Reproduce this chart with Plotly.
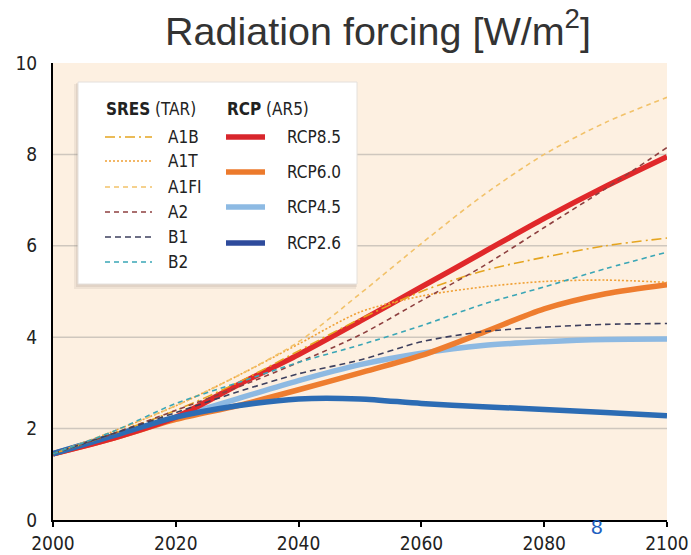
import plotly.graph_objects as go

# ---------------- data ----------------
YEARS = [2000, 2010, 2020, 2030, 2040, 2050, 2060, 2070, 2080, 2090, 2100]

RCP85 = [1.45, 1.80, 2.25, 2.95, 3.62, 4.35, 5.10, 5.85, 6.60, 7.30, 7.95]
RCP60 = [1.45, 1.80, 2.20, 2.50, 2.85, 3.22, 3.60, 4.10, 4.62, 4.95, 5.15]
RCP45 = [1.45, 1.85, 2.25, 2.65, 3.05, 3.40, 3.65, 3.82, 3.90, 3.95, 3.96]
RCP26 = [1.45, 1.85, 2.25, 2.50, 2.65, 2.65, 2.55, 2.48, 2.42, 2.35, 2.28]

A1B = [1.45, 1.90, 2.40, 3.00, 3.70, 4.40, 5.00, 5.45, 5.75, 6.00, 6.17]
A1T = [1.45, 1.95, 2.50, 3.15, 3.85, 4.55, 4.90, 5.10, 5.22, 5.25, 5.20]
A1FI = [1.45, 1.95, 2.50, 3.15, 3.90, 4.95, 6.05, 7.10, 8.00, 8.70, 9.25]
A2 = [1.45, 1.90, 2.40, 2.90, 3.45, 4.05, 4.80, 5.55, 6.40, 7.25, 8.15]
B1 = [1.45, 1.90, 2.35, 2.80, 3.20, 3.50, 3.90, 4.12, 4.22, 4.28, 4.30]
B2 = [1.45, 1.95, 2.55, 3.00, 3.45, 3.83, 4.25, 4.72, 5.10, 5.50, 5.86]

X_TICKS = [2000, 2020, 2040, 2060, 2080, 2100]
Y_TICKS = [0, 2, 4, 6, 8, 10]
GRID_VALUES = [2, 4, 6, 8]

TITLE = "Radiation forcing [W/m<sup>2</sup>]"
SLIDE_NO = "8"

SRES_NAMES = ["A1B", "A1T", "A1FI", "A2", "B1", "B2"]
SRES_DATA = [A1B, A1T, A1FI, A2, B1, B2]
SRES_COLORS = ["#E5A520", "#F0A035", "#F2C26A", "#8E4040", "#3E405E", "#3AA6B6"]
SRES_DASH = ["10px,4px,2px,4px", "2px,2px", "5px,4px", "5px,4px", "6px,4px", "5px,4px"]

RCP_NAMES = ["RCP8.5", "RCP6.0", "RCP4.5", "RCP2.6"]
RCP_DATA = [RCP85, RCP60, RCP45, RCP26]
RCP_COLORS = ["#E0282A", "#EE7D2F", "#8DB9E2", "#2C6CB4"]
RCP_LEGEND_COLORS = ["#D8262C", "#EC7A2C", "#8DBAE3", "#2E4B9C"]
RCP_DRAW_ORDER = [2, 1, 0, 3]

# ---------------- layout geometry ----------------
W, H = 691, 555
L, R, T, B = 53, 24, 63, 35
PW, PH = W - L - R, H - T - B


def px(x):
    return (x - L) / PW


def py(y):
    return (H - B - y) / PH


NARROW = "Liberation Sans Narrow, Arial Narrow, DejaVu Sans Condensed, sans-serif"

fig = go.Figure()

for i in RCP_DRAW_ORDER:
    fig.add_trace(go.Scatter(x=YEARS, y=RCP_DATA[i], mode="lines", name=RCP_NAMES[i],
                             line=dict(color=RCP_COLORS[i], width=5.5, shape="spline", smoothing=0.8),
                             showlegend=False, hoverinfo="x+y+name"))

for name, vals, col, dash in zip(SRES_NAMES, SRES_DATA, SRES_COLORS, SRES_DASH):
    fig.add_trace(go.Scatter(x=YEARS, y=vals, mode="lines", name=name,
                             line=dict(color=col, width=1.6, dash=dash, shape="spline", smoothing=0.8),
                             showlegend=False, hoverinfo="x+y+name"))

shapes = []
# grid lines
for g in GRID_VALUES:
    shapes.append(dict(type="line", xref="paper", yref="y", x0=0, x1=1, y0=g, y1=g,
                       line=dict(color="#CFC7BE", width=1.5), layer="below"))

# legend box with a soft shadow
shapes.append(dict(type="rect", xref="paper", yref="paper",
                   x0=px(74), x1=px(356), y0=py(289), y1=py(84),
                   fillcolor="rgba(120,110,100,0.10)", line=dict(width=0)))
shapes.append(dict(type="rect", xref="paper", yref="paper",
                   x0=px(76), x1=px(357), y0=py(287), y1=py(83),
                   fillcolor="rgba(120,110,100,0.12)", line=dict(width=0)))
shapes.append(dict(type="rect", xref="paper", yref="paper",
                   x0=px(78), x1=px(357), y0=py(284), y1=py(82),
                   fillcolor="white", line=dict(color="#E4E0DC", width=1)))

annotations = []
annotations.append(dict(xref="paper", yref="paper", x=px(104), y=py(109), xanchor="left", yanchor="middle",
                        text="<b>SRES</b> (TAR)", showarrow=False,
                        font=dict(family=NARROW, size=17, color="#222222")))
annotations.append(dict(xref="paper", yref="paper", x=px(225), y=py(109), xanchor="left", yanchor="middle",
                        text="<b>RCP</b> (AR5)", showarrow=False,
                        font=dict(family=NARROW, size=17, color="#222222")))

SRES_ROWS = [137, 161, 187, 212, 237, 262]
for name, col, dash, yy in zip(SRES_NAMES, SRES_COLORS, SRES_DASH, SRES_ROWS):
    shapes.append(dict(type="line", xref="paper", yref="paper", x0=px(105), x1=px(152),
                       y0=py(yy), y1=py(yy), line=dict(color=col, width=1.6, dash=dash)))
    annotations.append(dict(xref="paper", yref="paper", x=px(166), y=py(yy), xanchor="left",
                            yanchor="middle", text=name, showarrow=False,
                            font=dict(family=NARROW, size=17, color="#222222")))

RCP_ROWS = [137, 172, 207, 243]
for name, col, yy in zip(RCP_NAMES, RCP_LEGEND_COLORS, RCP_ROWS):
    shapes.append(dict(type="line", xref="paper", yref="paper", x0=px(226), x1=px(265),
                       y0=py(yy), y1=py(yy), line=dict(color=col, width=5.5)))
    annotations.append(dict(xref="paper", yref="paper", x=px(285), y=py(yy), xanchor="left",
                            yanchor="middle", text=name, showarrow=False,
                            font=dict(family=NARROW, size=17, color="#222222")))

annotations.append(dict(xref="paper", yref="paper", x=px(597), y=py(526), xanchor="center",
                        yanchor="middle", text=SLIDE_NO, showarrow=False,
                        font=dict(family="Liberation Sans, Arial, sans-serif", size=21, color="#1F5FC0")))

fig.update_layout(
    width=W, height=H,
    margin=dict(l=L, r=R, t=T, b=B, pad=0, autoexpand=False),
    paper_bgcolor="white",
    plot_bgcolor="#FDF0E1",
    title=dict(text=TITLE, xref="paper", x=px(378), xanchor="center",
               yref="container", y=1 - 31 / H, yanchor="middle",
               font=dict(family="Liberation Sans, Arial, sans-serif", size=39.5, color="#333333")),
    xaxis=dict(range=[2000, 2100], tickvals=X_TICKS, showgrid=False, zeroline=False,
               showline=True, linecolor="black", linewidth=2, ticks="outside", ticklen=5,
               tickcolor="black", tickwidth=2, automargin=False,
               tickfont=dict(family=NARROW, size=19, color="#222222")),
    yaxis=dict(range=[0, 10], tickvals=Y_TICKS, showgrid=False, zeroline=False,
               showline=True, linecolor="black", linewidth=2, ticks="", ticklabelstandoff=10,
               automargin=False,
               tickfont=dict(family=NARROW, size=19, color="#222222")),
    shapes=shapes,
    annotations=annotations,
    showlegend=False,
)

fig.write_html("out.html", config={"displayModeBar": False},
               post_script="document.body.style.margin='0px';")
